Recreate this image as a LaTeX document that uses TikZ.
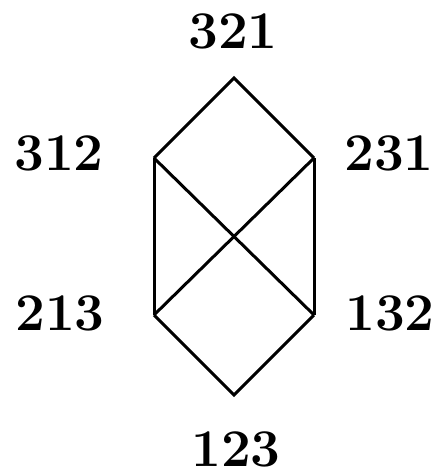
\documentclass[tikz,border=0pt]{standalone}
\begin{document}
\begin{tikzpicture}[x=1pt,y=-1pt,
  lbl/.style={anchor=base,inner sep=0pt,font=\fontsize{53}{60}\selectfont\bfseries},
  edge/.style={line width=3pt,line join=miter}]
\useasboundingbox (0,0) rectangle (438,474);
\coordinate (T) at (234,78);
\coordinate (UL) at (154,158);
\coordinate (UR) at (314,158);
\coordinate (LL) at (154,315);
\coordinate (LR) at (314,315);
\coordinate (B) at (234,395);
\draw[edge] (UL) -- (T) -- (UR);
\draw[edge] (LL) -- (B) -- (LR);
\draw[edge] (UL) -- (LL);
\draw[edge] (UR) -- (LR);
\draw[edge] (UL) -- (LR);
\draw[edge] (UR) -- (LL);
\node[lbl] (n321) at (233,48) {321};
\node[lbl] (n312) at (59,170) {312};
\node[lbl] (n231) at (389,170) {231};
\node[lbl] (n213) at (60,330) {213};
\node[lbl] (n132) at (390,330) {132};
\node[lbl] (n123) at (236,466) {123};
\end{tikzpicture}
\end{document}
